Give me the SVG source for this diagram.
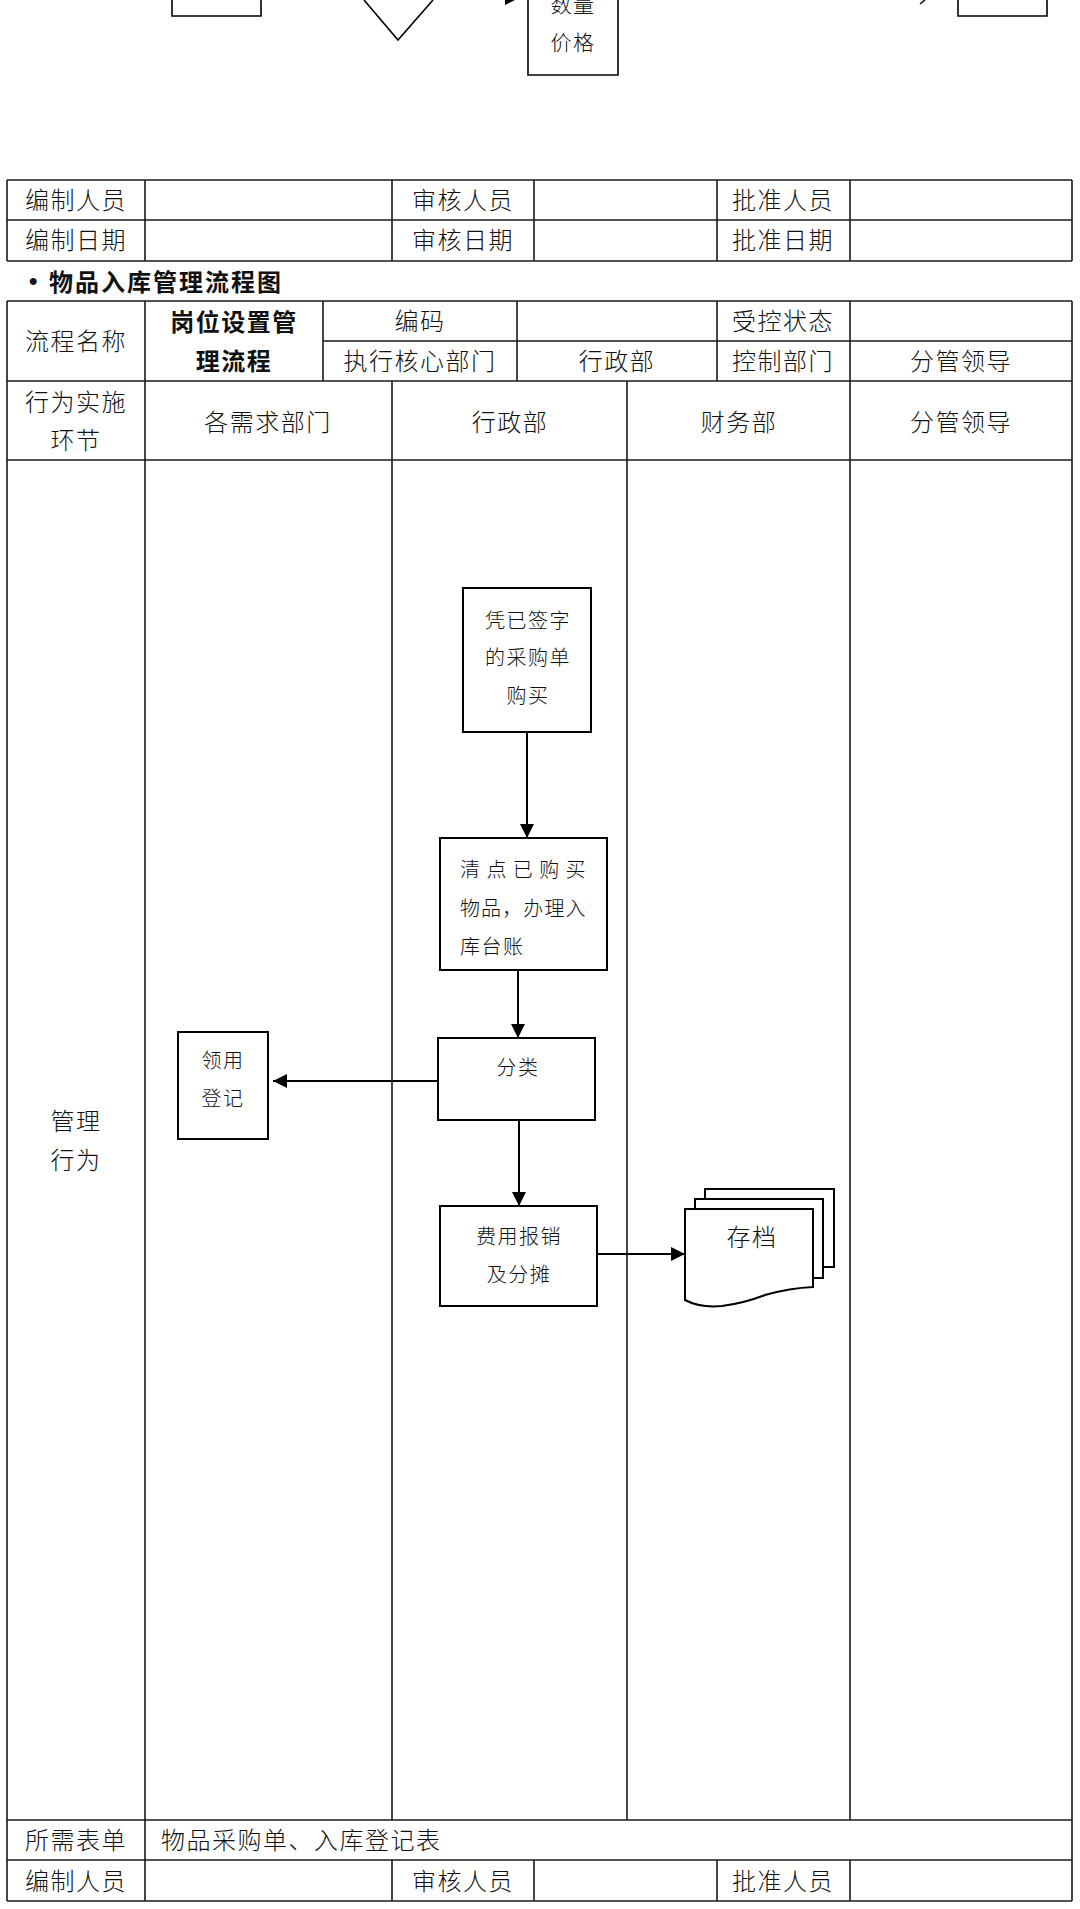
<svg xmlns="http://www.w3.org/2000/svg" width="1080" height="1909" viewBox="0 0 1080 1909">
<defs>
<style>
.t{font-family:"Noto Sans CJK SC","Liberation Sans",sans-serif;font-size:24px;fill:#111;text-anchor:middle;dominant-baseline:central;letter-spacing:1.5px;font-weight:300}
.n{font-family:"Noto Sans CJK SC","Liberation Sans",sans-serif;font-size:20px;fill:#111;text-anchor:middle;dominant-baseline:central;letter-spacing:1.5px;font-weight:300}
.t.tl,.n.tl{text-anchor:start}
.t.b{font-weight:bold}
.grid line{stroke:#1a1a1a;stroke-width:1.6}
.box{fill:#fff;stroke:#000;stroke-width:2}
.conn{stroke:#000;stroke-width:2;fill:none}
.frag{fill:none;stroke:#000;stroke-width:1.6}
</style>
<marker id="ah" markerUnits="userSpaceOnUse" markerWidth="15" markerHeight="14" refX="14" refY="7" orient="auto">
<path d="M0,0 L14,7 L0,14 Z" fill="#000"/>
</marker>
</defs>
<rect width="1080" height="1909" fill="#fff"/>

<!-- fragment of previous diagram at top -->
<g id="prev-fragment">
<path class="frag" d="M172,0 V16 H261 V0"/>
<path class="frag" d="M364,0 L398,40 L433,0"/>
<polygon points="505,-13 523,-4 505,5" fill="#000"/>
<path class="frag" d="M528,0 V75 H618 V0"/>
<text class="n" x="573" y="3" style="font-size:21px">数量</text>
<text class="n" x="573" y="41" style="font-size:21px">价格</text>
<line x1="920" y1="4" x2="925" y2="0" stroke="#000" stroke-width="1.5"/>
<path class="frag" d="M958,0 V16 H1047 V0"/>
</g>

<!-- top sign-off table -->
<g id="table-top" class="grid">
<line x1="7" y1="180" x2="1072" y2="180"/>
<line x1="7" y1="220" x2="1072" y2="220"/>
<line x1="7" y1="261" x2="1072" y2="261"/>
<line x1="7" y1="180" x2="7" y2="261"/>
<line x1="145" y1="180" x2="145" y2="261"/>
<line x1="392" y1="180" x2="392" y2="261"/>
<line x1="534" y1="180" x2="534" y2="261"/>
<line x1="717" y1="180" x2="717" y2="261"/>
<line x1="850" y1="180" x2="850" y2="261"/>
<line x1="1072" y1="180" x2="1072" y2="261"/>
</g>
<g id="table-top-text" transform="translate(0,-2)">
<text class="t" x="76" y="200">编制人员</text>
<text class="t" x="463" y="200">审核人员</text>
<text class="t" x="783" y="200">批准人员</text>
<text class="t" x="76" y="240">编制日期</text>
<text class="t" x="463" y="240">审核日期</text>
<text class="t" x="783" y="240">批准日期</text>
</g>

<text class="t tl b" x="29" y="280" style="letter-spacing:2px"><tspan x="29" style="font-family:'Liberation Sans',sans-serif">•</tspan><tspan x="49">物品入库管理流程图</tspan></text>

<!-- flow table grid -->
<g id="table-flow" class="grid">
<line x1="7" y1="301" x2="1072" y2="301"/>
<line x1="323" y1="341" x2="1072" y2="341"/>
<line x1="7" y1="381" x2="1072" y2="381"/>
<line x1="7" y1="460" x2="1072" y2="460"/>
<line x1="7" y1="1820" x2="1072" y2="1820"/>
<line x1="7" y1="1860" x2="1072" y2="1860"/>
<line x1="7" y1="1901" x2="1072" y2="1901"/>
<line x1="7" y1="301" x2="7" y2="1901"/>
<line x1="1072" y1="301" x2="1072" y2="1901"/>
<line x1="145" y1="301" x2="145" y2="1901"/>
<line x1="323" y1="301" x2="323" y2="381"/>
<line x1="517" y1="301" x2="517" y2="381"/>
<line x1="717" y1="301" x2="717" y2="381"/>
<line x1="850" y1="301" x2="850" y2="381"/>
<line x1="392" y1="381" x2="392" y2="1820"/>
<line x1="627" y1="381" x2="627" y2="1820"/>
<line x1="850" y1="381" x2="850" y2="1820"/>
<line x1="392" y1="1860" x2="392" y2="1901"/>
<line x1="534" y1="1860" x2="534" y2="1901"/>
<line x1="717" y1="1860" x2="717" y2="1901"/>
<line x1="850" y1="1860" x2="850" y2="1901"/>
</g>
<g id="table-flow-text" transform="translate(0,-2)">
<text class="t" x="76" y="341">流程名称</text>
<text class="t b" x="234" y="322">岗位设置管</text>
<text class="t b" x="234" y="361">理流程</text>
<text class="t" x="420" y="321">编码</text>
<text class="t" x="783" y="321">受控状态</text>
<text class="t" x="420" y="361">执行核心部门</text>
<text class="t" x="617" y="361">行政部</text>
<text class="t" x="783" y="361">控制部门</text>
<text class="t" x="961" y="361">分管领导</text>
<text class="t" x="76" y="402">行为实施</text>
<text class="t" x="76" y="440">环节</text>
<text class="t" x="268" y="422">各需求部门</text>
<text class="t" x="510" y="422">行政部</text>
<text class="t" x="739" y="422">财务部</text>
<text class="t" x="961" y="422">分管领导</text>
<text class="t" x="76" y="1121">管理</text>
<text class="t" x="76" y="1160">行为</text>
<text class="t" x="76" y="1840">所需表单</text>
<text class="t tl" x="161" y="1840">物品采购单、入库登记表</text>
<text class="t" x="76" y="1881">编制人员</text>
<text class="t" x="463" y="1881">审核人员</text>
<text class="t" x="783" y="1881">批准人员</text>
</g>

<!-- connectors -->
<g id="connectors">
<line class="conn" x1="527" y1="732" x2="527" y2="838" marker-end="url(#ah)"/>
<line class="conn" x1="518" y1="970" x2="518" y2="1038" marker-end="url(#ah)"/>
<line class="conn" x1="438" y1="1081" x2="273" y2="1081" marker-end="url(#ah)"/>
<line class="conn" x1="519" y1="1120" x2="519" y2="1206" marker-end="url(#ah)"/>
<line class="conn" x1="597" y1="1254" x2="685" y2="1254" marker-end="url(#ah)"/>
</g>

<!-- nodes -->
<g id="node-purchase">
<rect class="box" x="463" y="588" width="128" height="144"/>
<text class="n" x="528" y="619">凭已签字</text>
<text class="n" x="528" y="656">的采购单</text>
<text class="n" x="528" y="694">购买</text>
</g>
<g id="node-count">
<rect class="box" x="440" y="838" width="167" height="132"/>
<text class="n tl" x="460" y="868" textLength="127" lengthAdjust="spacing">清点已购买</text>
<text class="n tl" x="460" y="907" textLength="127" lengthAdjust="spacing">物品，办理入</text>
<text class="n tl" x="460" y="945">库台账</text>
</g>
<g id="node-classify">
<rect class="box" x="438" y="1038" width="157" height="82"/>
<text class="n" x="518" y="1066">分类</text>
</g>
<g id="node-register">
<rect class="box" x="178" y="1032" width="90" height="107"/>
<text class="n" x="223" y="1059">领用</text>
<text class="n" x="223" y="1097">登记</text>
</g>
<g id="node-expense">
<rect class="box" x="440" y="1206" width="157" height="100"/>
<text class="n" x="519" y="1235">费用报销</text>
<text class="n" x="519" y="1273">及分摊</text>
</g>
<g id="node-archive">
<rect class="box" x="705" y="1189" width="129" height="78"/>
<rect class="box" x="695" y="1199" width="128" height="79"/>
<path class="box" d="M685,1209 H813 V1287 Q790,1288 765,1295 Q745,1303 722,1306 Q700,1308 685,1300 Z"/>
<text class="t" x="752" y="1235">存档</text>
</g>
</svg>
